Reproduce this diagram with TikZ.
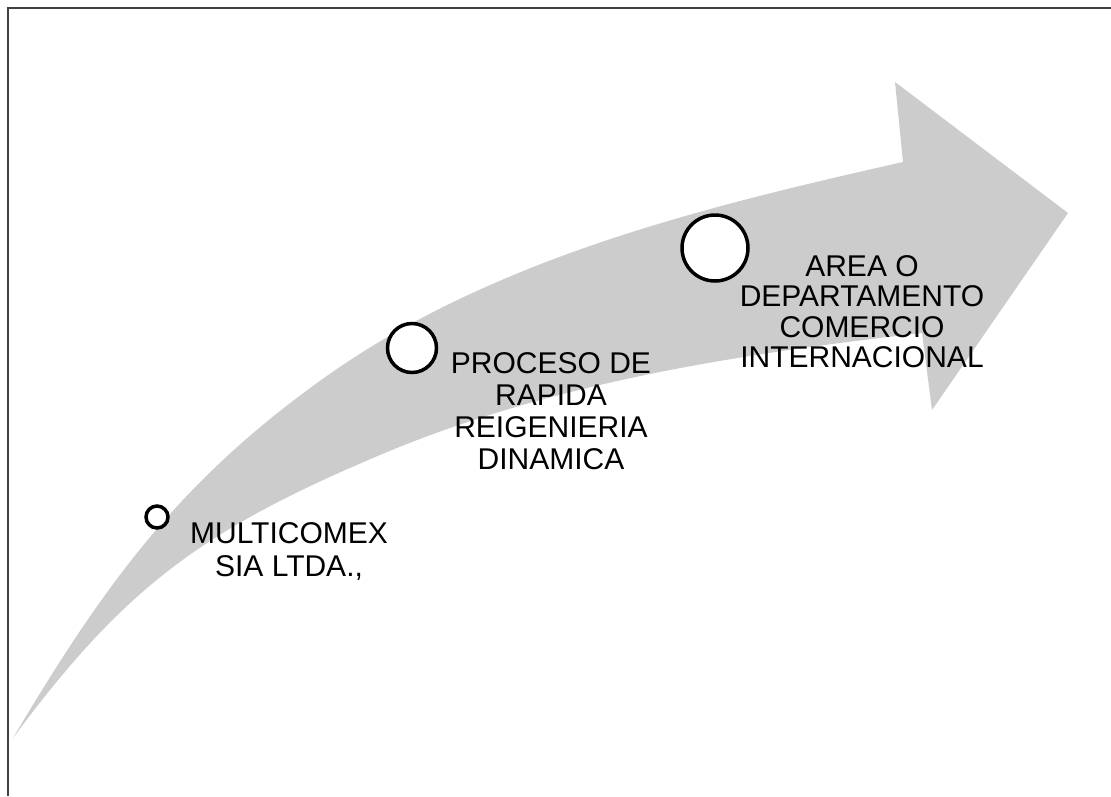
\documentclass[tikz,border=0pt]{standalone}
\usepackage{fontspec}
\setmainfont{Liberation Sans}
\definecolor{arrowgray}{HTML}{CCCCCC}
\definecolor{framegray}{HTML}{404040}
\tikzset{
  stage/.style={circle, draw=black, line width=3.5pt, fill=white, inner sep=0pt},
  lbl/.style={align=center, inner sep=0pt, text=black, anchor=north},
}
\begin{document}
\begin{tikzpicture}[x=1pt, y=-1pt]
\useasboundingbox[fill=white] (0,0) rectangle (1111,796);
% frame
\draw[framegray, line width=2pt] (7.7,796) -- (7.7,7.7) -- (1111,7.7);
% curved arrow
\fill[arrowgray]
  (13,738) .. controls (105,583) and (179,483) .. (317,383)
  .. controls (486,260) and (699,208) .. (903,162)
  -- (895,82) -- (1068,213) -- (932,410) -- (922,333)
  .. controls (738,354) and (550,383) .. (380,455)
  .. controls (205,529) and (126,585) .. (13,738)
  -- cycle;
% stages
\node[stage, minimum size=22pt] (c1) at (157,517) {};
\node[stage, minimum size=49pt] (c2) at (412,348) {};
\node[stage, minimum size=66pt] (c3) at (715,248) {};
% labels
\node[lbl, font=\fontsize{30}{33}\selectfont] (t1) at (289,522) {MULTICOMEX\\SIA LTDA.,};
\node[lbl, font=\fontsize{30}{32}\selectfont] (t2) at (551,352) {PROCESO DE\\RAPIDA\\REIGENIERIA\\DINAMICA};
\node[lbl, font=\fontsize{30}{30.5}\selectfont] (t3) at (862,255) {AREA O\\DEPARTAMENTO\\COMERCIO\\INTERNACIONAL};
\end{tikzpicture}
\end{document}
